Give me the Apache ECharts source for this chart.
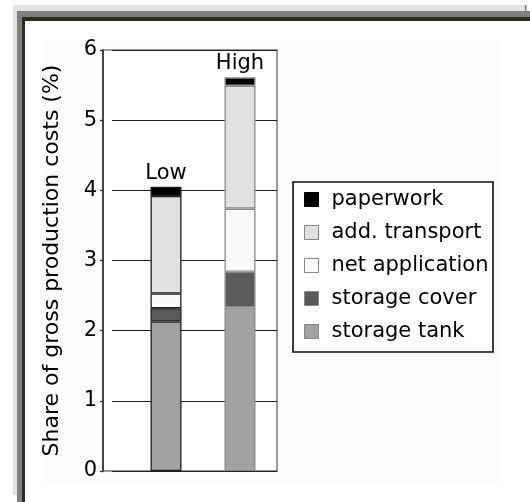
<!DOCTYPE html>
<html>
<head>
<meta charset="utf-8">
<script src="https://cdn.jsdelivr.net/npm/echarts@6/dist/echarts.min.js"></script>
<style>
  html, body { margin: 0; padding: 0; background: #fff; }
  #chart { width: 530px; height: 502px; }
</style>
</head>
<body>
<div id="chart"></div>
<script>
// categories (label above each bar)
var categories = ['Low', 'High'];
// stacked shares, % of gross production costs
var storageTank = [2.13, 2.33];
var storageCover = [0.19, 0.51];
var netApplication = [0.21, 0.9];
var addTransport = [1.39, 1.75];
var paperwork = [0.13, 0.12];
// y axis ticks
var yMin = 0, yMax = 6, yStep = 1;
// legend order, top to bottom
var legendOrder = ['paperwork', 'add. transport', 'net application', 'storage cover', 'storage tank'];

var FONT = 'DejaVu Sans';
var edgeColors = ['#1e1e1e', '#8a8a8a'];

function withEdges(vals) {
  return vals.map(function (v, i) {
    return { value: v, itemStyle: { borderColor: edgeColors[i] } };
  });
}

function barSeries(name, vals, color, extra) {
  var s = {
    name: name,
    type: 'bar',
    stack: 'costs',
    xAxisIndex: 2,
    yAxisIndex: 2,
    barWidth: 31,
    data: withEdges(vals),
    itemStyle: { color: color, borderWidth: 1.3 },
    emphasis: { disabled: true }
  };
  for (var k in extra) s[k] = extra[k];
  return s;
}

var option = {
  animation: false,
  backgroundColor: '#fff',
  textStyle: { fontFamily: FONT },
  graphic: [
    // page frame
    { type: 'rect', z: -5, shape: { x: 43, y: 40, width: 459, height: 442 }, style: { fill: '#fcfcfc' } },
    { type: 'rect', z: -4, shape: { x: 13, y: 5, width: 513, height: 6 }, style: { fill: '#e2e2e2' } },
    { type: 'rect', z: -4, shape: { x: 13, y: 5, width: 4, height: 490 }, style: { fill: '#e2e2e2' } },
    { type: 'rect', z: -4, shape: { x: 525, y: 5, width: 1.5, height: 6 }, style: { fill: '#777' } },
    { type: 'rect', z: -4, shape: { x: 17, y: 11, width: 513, height: 7 }, style: { fill: '#808080' } },
    { type: 'rect', z: -4, shape: { x: 17, y: 11, width: 5, height: 491 }, style: { fill: '#808080' } },
    { type: 'rect', z: -4, shape: { x: 22, y: 17, width: 508, height: 4 }, style: { fill: '#2b2b1f' } },
    { type: 'rect', z: -4, shape: { x: 22, y: 17, width: 3, height: 485 }, style: { fill: '#2b2b1f' } },
    // legend box
    { type: 'rect', z: 1, shape: { x: 293, y: 182, width: 200, height: 170 },
      style: { fill: '#fff', stroke: '#111', lineWidth: 1.6 } }
  ],
  grid: [
    // frame, axis and labels
    { left: 103, top: 50, width: 174, height: 421, show: true, backgroundColor: '#fff',
      borderColor: '#9a9a9a', borderWidth: 2 },
    // gridlines
    { left: 112, top: 50, width: 165, height: 421 },
    // bars
    { left: 129, top: 50, width: 148, height: 421 }
  ],
  xAxis: [
    { gridIndex: 0, type: 'category', data: categories, show: false },
    { gridIndex: 1, type: 'category', data: categories, show: false },
    { gridIndex: 2, type: 'category', data: categories, show: false }
  ],
  yAxis: [
    {
      gridIndex: 0, type: 'value', min: yMin, max: yMax, interval: yStep,
      name: 'Share of gross production costs (%)',
      nameLocation: 'middle', nameRotate: 90, nameGap: 40,
      nameTextStyle: { fontFamily: FONT, fontSize: 22, color: '#000' },
      axisLine: { show: true, lineStyle: { color: '#2a2a2a', width: 1.5 } },
      axisTick: { show: true, length: 3, lineStyle: { color: '#2a2a2a', width: 1.3 } },
      axisLabel: { margin: 6, fontFamily: FONT, fontSize: 21, color: '#000' },
      splitLine: { show: false }
    },
    {
      gridIndex: 1, type: 'value', min: yMin, max: yMax, interval: yStep,
      axisLine: { show: false }, axisTick: { show: false }, axisLabel: { show: false },
      splitLine: { show: true, lineStyle: { color: '#222', width: 1.2 } }
    },
    {
      gridIndex: 2, type: 'value', min: yMin, max: yMax, interval: yStep, show: false,
      splitLine: { show: false }
    }
  ],
  legend: {
    orient: 'vertical',
    left: 304,
    top: 189,
    padding: 0,
    itemWidth: 14,
    itemHeight: 14,
    itemGap: 12,
    icon: 'rect',
    selectedMode: false,
    textStyle: { fontFamily: FONT, fontSize: 21, lineHeight: 21, color: '#000', padding: [0, 0, 0, 8] },
    data: legendOrder.map(function (n) {
      return { name: n, itemStyle: { borderColor: n === 'paperwork' ? '#000' : '#888', borderWidth: 1 } };
    })
  },
  series: [
    barSeries('storage tank', storageTank, '#a2a2a2'),
    barSeries('storage cover', storageCover, '#5a5a5a'),
    barSeries('net application', netApplication, '#fafafa'),
    barSeries('add. transport', addTransport, '#e1e1e1'),
    barSeries('paperwork', paperwork, '#000', {
      label: {
        show: true, position: 'top', distance: 3,
        formatter: function (p) { return categories[p.dataIndex]; },
        fontFamily: FONT, fontSize: 21, color: '#000'
      }
    })
  ]
};

var chart = echarts.init(document.getElementById('chart'));
chart.setOption(option);
</script>
</body>
</html>
